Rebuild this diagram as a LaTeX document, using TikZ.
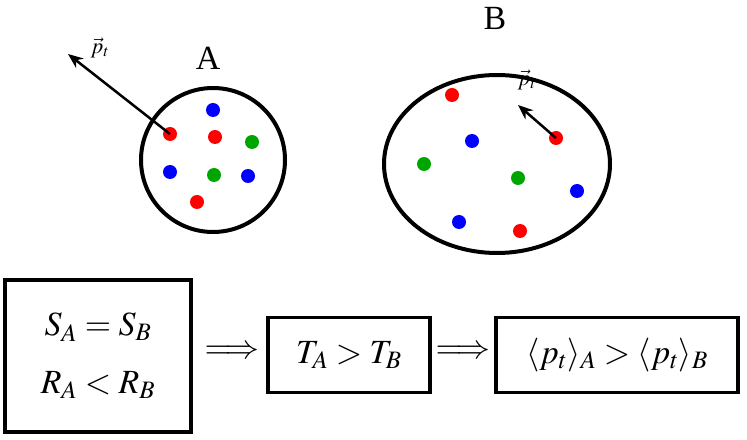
\documentclass[tikz,border=0pt]{standalone}
\usepackage{mathptmx}
\usepackage{fontspec}
\setmainfont{Liberation Serif}
\usepackage{tikz}
\usepackage{xcolor}
\usetikzlibrary{positioning,arrows.meta}

\tikzset{
  dot/.style={circle, fill=#1, inner sep=0pt, minimum size=14bp},
  eqbox/.style={draw, line width=3.5bp, inner sep=0pt},
  big/.style={font=\fontsize{34}{38}\selectfont},
  push/.style={line width=2.5bp, -{Stealth[length=15bp, width=12bp]}},
}

\begin{document}
\begin{tikzpicture}[x=1bp, y=-1bp, line width=4bp]
          \useasboundingbox (0,0) rectangle (747,440);

          % the two gases
          \draw (213,160) circle [radius=72];
          \draw (497,164) ellipse [x radius=113, y radius=89];
          \node[big] (labA) at (208,58) {A};
          \node[big] (labB) at (495,18) {B};

          \node[dot=red] (a1) at (170,134) {};
          \node[dot=red] (a2) at (215,137) {};
          \node[dot=red] (a3) at (197,202) {};
          \node[dot=blue] (a4) at (213,110) {};
          \node[dot=blue] (a5) at (170,172) {};
          \node[dot=blue] (a6) at (248,176) {};
          \node[dot=green!65!black] (a7) at (252,142) {};
          \node[dot=green!65!black] (a8) at (214,175) {};

          \node[dot=red] (b1) at (452,95) {};
          \node[dot=red] (b2) at (556,138) {};
          \node[dot=red] (b3) at (520,231) {};
          \node[dot=blue] (b4) at (472,141) {};
          \node[dot=blue] (b5) at (577,191) {};
          \node[dot=blue] (b6) at (459,222) {};
          \node[dot=green!65!black] (b7) at (424,164) {};
          \node[dot=green!65!black] (b8) at (518,178) {};

          \coordinate (tipA) at (68,54);
          \coordinate (tipB) at (518,105);
          \draw[push] (a1.center) -- (tipA);
          \draw[push] (b2.center) -- (tipB);
          \node[font=\fontsize{22}{24}\selectfont] (pA) at (100,48) {$\vec{p}_t$};
          \node[font=\fontsize{22}{24}\selectfont] (pB) at (527,80) {$\vec{p}_t$};

          % the chain of relations
          \node[eqbox, big, minimum width=186bp, minimum height=152bp, align=center] (box1) at (98,356)
            {$S_A = S_B$\\[20bp]$R_A < R_B$};
          \node[big, inner sep=0pt] (imp1) at (232,352) {$\Longrightarrow$};
          \node[eqbox, big, minimum width=162bp, minimum height=75bp] (box2) at (349,355) {$T_A > T_B$};
          \node[big, inner sep=0pt] (imp2) at (463,352) {$\Longrightarrow$};
          \node[eqbox, big, minimum width=242bp, minimum height=75bp] (box3) at (617,355)
            {$\langle p_t\rangle_A > \langle p_t\rangle_B$};
        \end{tikzpicture}
\end{document}
